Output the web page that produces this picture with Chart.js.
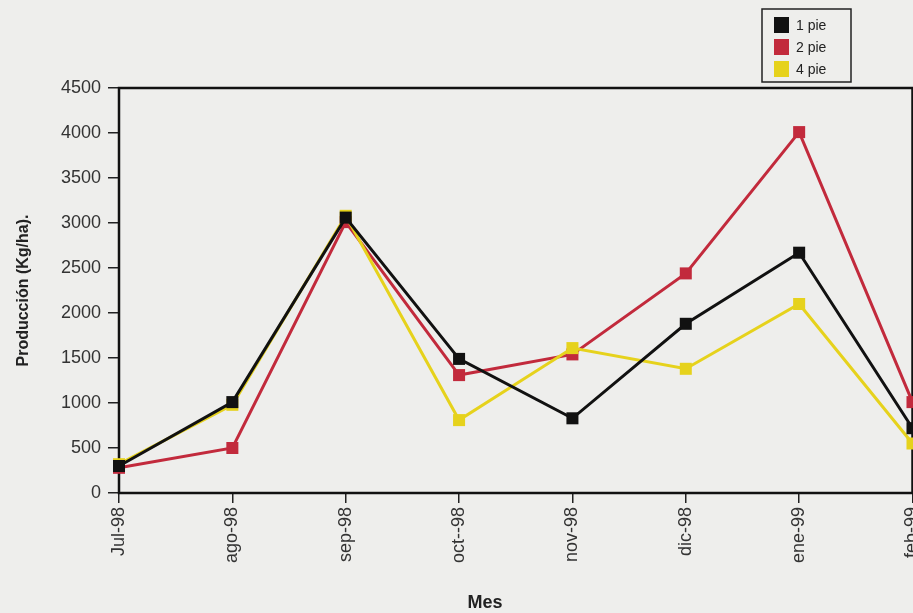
<!DOCTYPE html>
<html>
<head>
<meta charset="utf-8">
<script src="https://cdn.jsdelivr.net/npm/chart.js@4"></script>
<style>
  html,body{margin:0;padding:0;background:#eeeeec;overflow:hidden;}
  #wrap{width:921px;height:613px;position:relative;}
</style>
</head>
<body>
<div id="wrap"><canvas id="prod"></canvas></div>
<script>
// ----- Datos -----
const meses = ['Jul-98','ago-98','sep-98','oct--98','nov-98','dic-98','ene-99','feb-99'];
const pie1 = [300, 1010, 3060, 1490, 830, 1880, 2670, 720];
const pie2 = [280, 500, 3010, 1310, 1540, 2440, 4010, 1010];
const pie4 = [320, 980, 3080, 810, 1610, 1380, 2100, 550];
const yTicks = [0,500,1000,1500,2000,2500,3000,3500,4000,4500];

const colores = { p1:'#111111', p2:'#c22a3c', p4:'#e6d21c' };
const fontBase = "'Liberation Sans', Arial, sans-serif";

// marco del área de gráfico + título X + leyenda
const marco = {
  id:'marco',
  beforeDatasetsDraw(chart){
    const {ctx, chartArea:a} = chart;
    ctx.save();
    ctx.strokeStyle = '#111';
    ctx.lineWidth = 2.5;
    ctx.strokeRect(a.left, a.top, a.right - a.left, a.bottom - a.top);
    ctx.restore();
  },
  afterDraw(chart){
    const ctx = chart.ctx;
    ctx.save();
    // título eje X
    ctx.fillStyle = '#222';
    ctx.font = `bold 18px ${fontBase}`;
    ctx.textAlign = 'center';
    ctx.textBaseline = 'middle';
    ctx.fillText('Mes', 485, 603);
    // leyenda
    ctx.strokeStyle = '#222';
    ctx.lineWidth = 1.5;
    ctx.strokeRect(762, 9, 89, 73);
    ctx.font = `14px ${fontBase}`;
    ctx.textAlign = 'left';
    chart.data.datasets.forEach((ds,i)=>{
      const y = 25 + i*22;
      ctx.fillStyle = ds.borderColor;
      ctx.fillRect(774, y-8, 15, 16);
      ctx.fillStyle = '#222';
      ctx.fillText(ds.label, 796, y+1);
    });
    ctx.restore();
  }
};

function serie(label, data, color, order){
  return { label, data, borderColor:color, backgroundColor:color,
    borderWidth:3, pointStyle:'rect', pointRadius:8.5, pointHoverRadius:8.5,
    pointBorderWidth:0, tension:0, clip:false, order };
}

new Chart(document.getElementById('prod'),{
  type:'line',
  data:{ labels: meses, datasets:[
    serie('1 pie', pie1, colores.p1, 0),
    serie('2 pie', pie2, colores.p2, 2),
    serie('4 pie', pie4, colores.p4, 1)
  ]},
  options:{
    responsive:true, maintainAspectRatio:false, animation:false,
    layout:{ padding:{ top:88, right:0, left:0, bottom:0 } },
    plugins:{ legend:{ display:false }, tooltip:{ enabled:false } },
    scales:{
      x:{
        offset:false,
        grid:{ drawOnChartArea:false, drawTicks:true, tickLength:10, color:'#222', lineWidth:1.5 },
        border:{ display:false },
        ticks:{ color:'#333', font:{ family:fontBase, size:18 }, minRotation:90, maxRotation:90, autoSkip:false, padding:4 },
        afterFit(s){ s.height = 120; s.paddingRight = 0; s.paddingLeft = 0; }
      },
      y:{
        min:0, max:4500,
        afterBuildTicks(s){ s.ticks = yTicks.map(v=>({value:v})); },
        grid:{ drawOnChartArea:false, drawTicks:true, tickLength:11, color:'#222', lineWidth:1.5 },
        border:{ display:false },
        ticks:{ color:'#333', font:{ family:fontBase, size:18 }, padding:7, callback:(v)=>String(v) },
        title:{ display:true, text:'Producción (Kg/ha).', color:'#222', font:{ family:fontBase, size:16, weight:'bold' }, padding:{ top:14, bottom:0 } },
        afterFit(s){ s.width = 119; s.paddingTop = 0; s.paddingBottom = 0; }
      }
    }
  },
  plugins:[marco]
});
</script>
</body>
</html>
